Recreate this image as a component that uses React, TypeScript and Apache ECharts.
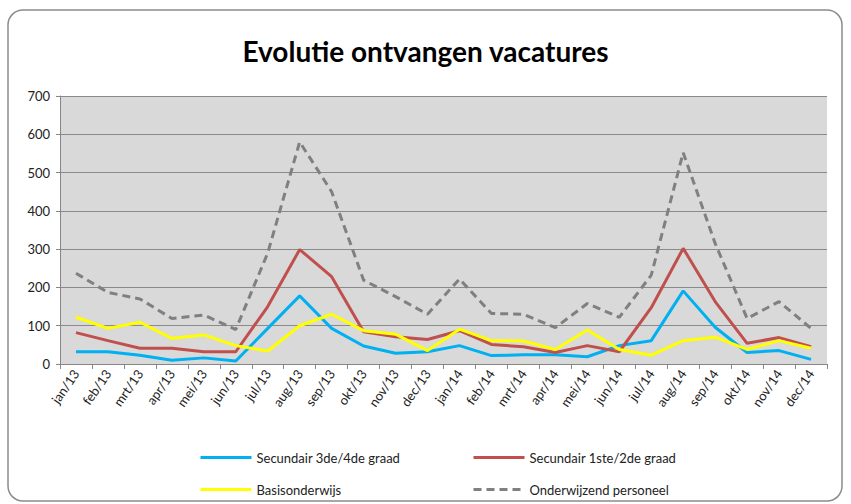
import React, { useEffect, useRef } from "react";
import * as echarts from "echarts";

const categories = [
  "jan/13", "feb/13", "mrt/13", "apr/13", "mei/13", "jun/13", "jul/13", "aug/13", "sep/13", "okt/13", "nov/13", "dec/13",
  "jan/14", "feb/14", "mrt/14", "apr/14", "mei/14", "jun/14", "jul/14", "aug/14", "sep/14", "okt/14", "nov/14", "dec/14",
];

const secundair34 = [32, 32, 23, 10, 16, 8, 93, 178, 93, 47, 28, 32, 48, 22, 24, 24, 19, 48, 61, 191, 96, 30, 35, 12];
const secundair12 = [82, 61, 41, 41, 32, 32, 150, 299, 228, 84, 71, 64, 87, 51, 45, 30, 48, 32, 147, 302, 163, 54, 69, 45];
const basisonderwijs = [122, 93, 109, 67, 76, 48, 34, 100, 130, 87, 78, 35, 91, 61, 60, 38, 89, 38, 23, 61, 70, 38, 61, 41];
const onderwijzend = [237, 187, 170, 119, 128, 90, 290, 580, 450, 219, 176, 130, 222, 132, 130, 95, 158, 122, 232, 552, 315, 119, 163, 93];

const yTicks = { min: 0, max: 700, interval: 100 };

const FONT = "Lato";

export default function App() {
  const ref = useRef<HTMLDivElement>(null);
  useEffect(() => {
    if (!ref.current) return;
    const chart = echarts.init(ref.current, null, { renderer: "svg" });
    const legendText = { fontFamily: FONT, fontSize: 13, color: "#222" };
    const legendBase = {
      orient: "horizontal" as const,
      itemWidth: 51,
      itemHeight: 14,
      textStyle: legendText,
      itemGap: 0,
      itemStyle: { opacity: 0 },
      lineStyle: { width: 3 },
    };
    chart.setOption({
      animation: false,
      backgroundColor: "#ffffff",
      title: {
        text: "Evolutie ontvangen vacatures",
        left: "center",
        top: 32,
        textStyle: { fontFamily: FONT, fontSize: 28, fontWeight: "bold", color: "#000" },
      },
      graphic: [
        {
          type: "rect",
          z: -10,
          silent: true,
          shape: { x: 8, y: 10, width: 834, height: 491, r: 15 },
          style: { fill: "none", stroke: "#8c8c8c", lineWidth: 1.5 },
        },
      ],
      legend: [
        { ...legendBase, left: 194, top: 446, data: ["Secundair 3de/4de graad"] },
        { ...legendBase, left: 467, top: 446, data: ["Secundair 1ste/2de graad"] },
        { ...legendBase, left: 194, top: 478, data: ["Basisonderwijs"] },
        { ...legendBase, left: 467, top: 478, data: ["Onderwijzend personeel"] },
      ],
      grid: {
        left: 60,
        right: 24,
        top: 96,
        bottom: 140,
        show: true,
        backgroundColor: "#d9d9d9",
        borderColor: "#b5b5b5",
        borderWidth: 0,
      },
      xAxis: {
        type: "category",
        data: categories,
        boundaryGap: true,
        axisLine: { show: true, lineStyle: { color: "#868686", width: 1 } },
        axisTick: { show: true, alignWithLabel: false, length: 5, lineStyle: { color: "#868686" } },
        axisLabel: {
          rotate: 55,
          interval: 0,
          fontFamily: FONT,
          fontSize: 13,
          color: "#222",
          margin: 7,
        },
        splitLine: { show: false },
      },
      yAxis: {
        type: "value",
        min: yTicks.min,
        max: yTicks.max,
        interval: yTicks.interval,
        axisLine: { show: true, lineStyle: { color: "#868686", width: 1 } },
        axisTick: { show: true, length: 4, lineStyle: { color: "#868686" } },
        axisLabel: { fontFamily: FONT, fontSize: 13, color: "#222", margin: 10 },
        splitLine: { show: true, lineStyle: { color: "#8a8a8a", width: 1 } },
      },
      series: [
        {
          name: "Secundair 3de/4de graad",
          type: "line",
          data: secundair34,
          symbol: "none",
          color: "#00b0f0",
          lineStyle: { color: "#00b0f0", width: 3 },
          z: 3,
        },
        {
          name: "Secundair 1ste/2de graad",
          type: "line",
          data: secundair12,
          symbol: "none",
          color: "#c0504d",
          lineStyle: { color: "#c0504d", width: 3 },
          z: 4,
        },
        {
          name: "Basisonderwijs",
          type: "line",
          data: basisonderwijs,
          symbol: "none",
          color: "#ffff00",
          lineStyle: { color: "#ffff00", width: 3 },
          z: 5,
        },
        {
          name: "Onderwijzend personeel",
          type: "line",
          data: onderwijzend,
          symbol: "none",
          color: "#808080",
          lineStyle: { color: "#808080", width: 3, type: [8, 5] },
          z: 6,
        },
      ],
    });
    return () => chart.dispose();
  }, []);
  return (
    <div
      ref={ref}
      style={{ position: "fixed", left: 0, top: 0, width: 851, height: 504 }}
    />
  );
}
